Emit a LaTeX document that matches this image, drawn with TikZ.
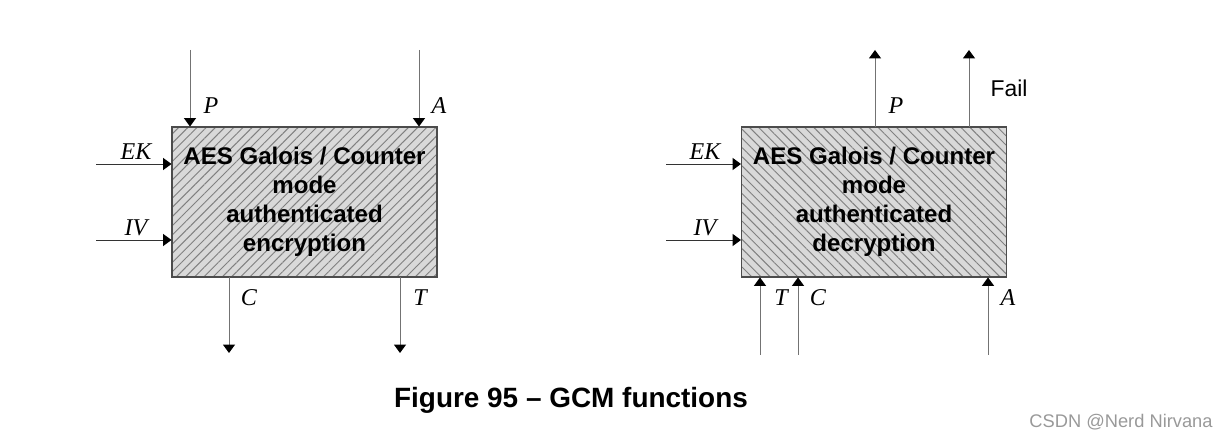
\documentclass[tikz,border=0pt]{standalone}
\usepackage{fontspec}
\setmainfont{Liberation Sans}
\newfontfamily\labelfont{Liberation Serif}
\usetikzlibrary{arrows.meta, patterns.meta, positioning}

\begin{document}
\begin{tikzpicture}[
    x=0.0146cm, y=-0.0146cm,
    gcmbox/.style={draw=black!70, line width=0.5pt, minimum width=3.87cm, minimum height=2.19cm, align=center, inner sep=0pt, font=\fontsize{10}{12}\selectfont\bfseries},
    encbox/.style={gcmbox, preaction={fill=black!15}, pattern={Lines[angle=45, distance=2.7pt, line width=0.4pt]}, pattern color=black!50},
    decbox/.style={gcmbox, preaction={fill=black!15}, pattern={Lines[angle=-45, distance=2.7pt, line width=0.4pt]}, pattern color=black!50},
    sig/.style={inner sep=0pt, font=\labelfont\itshape\fontsize{10}{12}\selectfont},
    arrow/.style={-{Triangle[width=5pt, length=3.5pt, color=black]}, line width=0.4pt, black!80},
    varrow/.style={arrow, black!55}
]
    \useasboundingbox (0,0) rectangle (1227,444);

    % Encryption block.
    \node[encbox] (enc) at (304.5, 202) {AES Galois / Counter\\mode\\authenticated\\encryption};
    \coordinate (encP)  at (190, 50);
    \coordinate (encA)  at (419, 50);
    \coordinate (encEK) at (96, 164);
    \coordinate (encIV) at (96, 240);
    \coordinate (encC)  at (229, 353);
    \coordinate (encT)  at (400, 353);
    \draw[varrow] (encP) -- (encP |- enc.north);
    \draw[varrow] (encA) -- (encA |- enc.north);
    \draw[arrow] (encEK) -- (enc.west |- encEK);
    \draw[arrow] (encIV) -- (enc.west |- encIV);
    \draw[varrow] (encC |- enc.south) -- (encC);
    \draw[varrow] (encT |- enc.south) -- (encT);
    \node[sig] (encPlab)  at (211, 106) {P};
    \node[sig] (encAlab)  at (439, 106) {A};
    \node[sig] (encEKlab) at (136, 152) {EK};
    \node[sig] (encIVlab) at (136, 228) {IV};
    \node[sig] (encClab)  at (249, 298) {C};
    \node[sig] (encTlab)  at (420, 298) {T};

    % Decryption block.
    \node[decbox] (dec) at (874, 202) {AES Galois / Counter\\mode\\authenticated\\decryption};
    \coordinate (decP)    at (875, 50);
    \coordinate (decFail) at (969, 50);
    \coordinate (decEK)   at (666, 164);
    \coordinate (decIV)   at (666, 240);
    \coordinate (decT)    at (760, 355);
    \coordinate (decC)    at (798, 355);
    \coordinate (decA)    at (988, 355);
    \draw[varrow] (decP |- dec.north) -- (decP);
    \draw[varrow] (decFail |- dec.north) -- (decFail);
    \draw[arrow] (decEK) -- (dec.west |- decEK);
    \draw[arrow] (decIV) -- (dec.west |- decIV);
    \draw[varrow] (decT) -- (decT |- dec.south);
    \draw[varrow] (decC) -- (decC |- dec.south);
    \draw[varrow] (decA) -- (decA |- dec.south);
    \node[sig] (decPlab)  at (896, 106) {P};
    \node[inner sep=0pt, font=\fontsize{9.5}{11}\selectfont] (decFaillab) at (1009, 88) {Fail};
    \node[sig] (decEKlab) at (705, 152) {EK};
    \node[sig] (decIVlab) at (705, 228) {IV};
    \node[sig] (decTlab)  at (781, 298) {T};
    \node[sig] (decClab)  at (818, 298) {C};
    \node[sig] (decAlab)  at (1008, 298) {A};

    % Caption and watermark.
    \node[font=\fontsize{11.6}{14}\selectfont\bfseries] (caption) at (571, 400) {Figure 95 -- GCM functions};
    \node[font=\fontsize{7.6}{9}\selectfont, text=black!40] (mark) at (1121, 422) {CSDN @Nerd Nirvana};
\end{tikzpicture}
\end{document}
